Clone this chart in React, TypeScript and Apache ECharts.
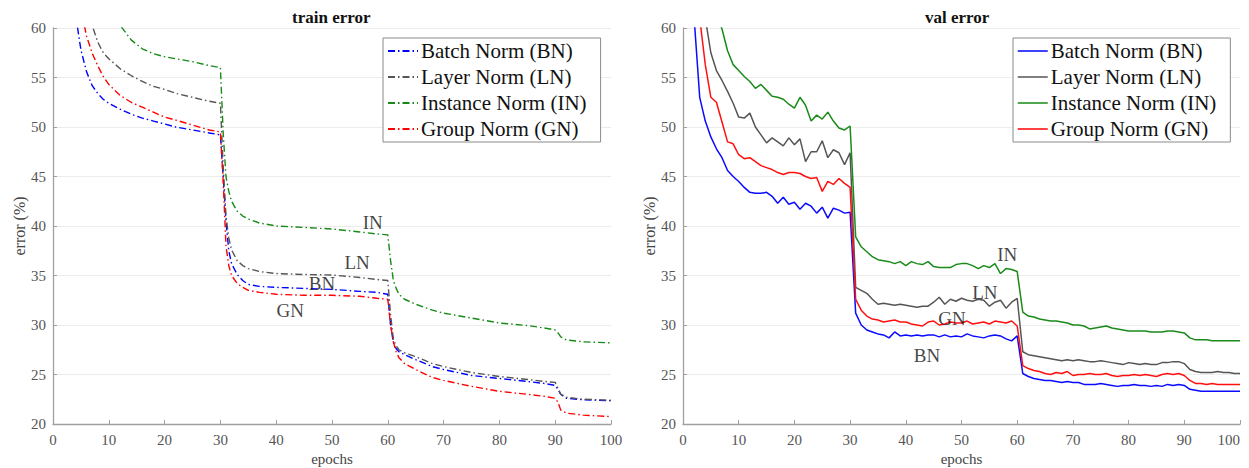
import React, { useEffect, useRef } from "react";
import * as echarts from "echarts";

const FONT = "'Liberation Serif', 'Times New Roman', serif";

const seriesNames = ["Batch Norm (BN)", "Layer Norm (LN)", "Instance Norm (IN)", "Group Norm (GN)"];
const trainColors = ["#0000ff", "#555555", "#168a16", "#ff0000"];
const valColors = ["#0a0aff", "#555555", "#1a8a1a", "#ff1010"];
const plotTitles = ["train error", "val error"];
const xName = "epochs";
const yName = "error (%)";

// train error (sampled epochs)
const trainEpochs = [4, 5, 6, 7, 8, 9, 10, 12, 14, 16, 18, 20, 22, 25, 28, 30, 30.5, 31, 31.5, 32, 33, 34, 35, 37, 40, 45, 50, 55, 58, 60, 60.5, 61, 61.5, 62, 63, 65, 68, 70, 75, 80, 85, 88, 90, 90.5, 91, 92, 95, 100];
const trainBN = [61.5, 57.8, 55.6, 54.2, 53.4, 52.8, 52.4, 51.8, 51.3, 50.9, 50.6, 50.3, 50.0, 49.7, 49.4, 49.2, 45.0, 40.5, 37.5, 36.2, 35.1, 34.5, 34.1, 33.9, 33.8, 33.7, 33.6, 33.4, 33.3, 33.1, 30.0, 28.2, 27.6, 27.3, 27.0, 26.5, 25.8, 25.5, 24.9, 24.6, 24.3, 24.1, 23.9, 23.5, 23.0, 22.6, 22.45, 22.35];
const trainLN = [70, 66, 62.5, 60.3, 58.6, 57.5, 56.9, 55.9, 55.2, 54.6, 54.1, 53.8, 53.4, 53.0, 52.6, 52.4, 46.0, 41.0, 38.8, 37.6, 36.5, 36.0, 35.7, 35.4, 35.2, 35.1, 35.05, 34.8, 34.6, 34.5, 31.0, 28.6, 27.9, 27.5, 27.2, 26.8, 26.1, 25.8, 25.2, 24.8, 24.5, 24.3, 24.2, 23.6, 23.0, 22.7, 22.5, 22.4];
const trainIN = [80, 76, 73, 70, 67, 65, 63, 60.3, 58.8, 57.9, 57.4, 57.1, 56.9, 56.6, 56.2, 56.0, 49.4, 45.0, 43.5, 42.5, 41.5, 41.0, 40.7, 40.3, 40.0, 39.85, 39.7, 39.4, 39.2, 39.1, 36.5, 34.5, 33.7, 33.1, 32.6, 32.1, 31.5, 31.2, 30.7, 30.2, 29.95, 29.7, 29.5, 29.2, 28.8, 28.5, 28.3, 28.2];
const trainGN = [66, 62, 59.2, 57.5, 56.2, 55.1, 54.3, 53.2, 52.5, 52.0, 51.5, 51.0, 50.7, 50.2, 49.7, 49.5, 44.5, 38.0, 36.0, 35.0, 34.2, 33.8, 33.5, 33.3, 33.1, 33.0, 33.0, 32.9, 32.7, 32.6, 30.0, 28.3, 27.3, 26.7, 26.1, 25.5, 24.7, 24.4, 23.8, 23.3, 23.0, 22.8, 22.6, 22.2, 21.4, 21.1, 20.9, 20.75];

// val error (every epoch 1..100)
const valEpochs = Array.from({ length: 100 }, (_, i) => i + 1);
const valBN = [
  75, 61, 53.0, 50.6, 49.0, 47.8, 46.9, 45.6, 45.0, 44.5,
  43.9, 43.4, 43.3, 43.3, 43.4, 43.0, 42.3, 42.9, 42.2, 42.4,
  41.7, 42.3, 42.0, 41.3, 41.9, 40.8, 41.8, 41.6, 41.3, 41.4,
  31.2, 30.0, 29.5, 29.3, 29.1, 29.0, 28.7, 29.3, 28.9, 29.0,
  28.9, 29.0, 28.9, 29.0, 29.0, 28.8, 29.0, 28.8, 28.9, 28.8,
  29.1, 28.9, 28.8, 28.7, 28.9, 29.0, 28.9, 28.6, 28.4, 28.9,
  25.1, 24.8, 24.6, 24.5, 24.4, 24.4, 24.3, 24.2, 24.3, 24.2,
  24.2, 24.0, 24.0, 24.0, 24.1, 24.0, 23.9, 23.8, 23.9, 23.9,
  24.0, 23.9, 23.9, 23.8, 23.9, 23.8, 24.0, 23.9, 24.0, 23.9,
  23.5, 23.4, 23.3, 23.3, 23.3, 23.3, 23.3, 23.3, 23.3, 23.3,
];
const valLN = [
  85, 72, 65, 61, 57.5, 55.7, 54.7, 53.6, 52.4, 51.0,
  50.9, 51.4, 50.0, 49.2, 48.4, 48.9, 48.5, 48.1, 48.9, 48.2,
  48.8, 46.5, 47.5, 47.5, 48.6, 46.9, 47.7, 47.4, 46.2, 47.4,
  33.8, 33.5, 33.2, 32.6, 32.1, 32.2, 32.1, 32.0, 32.1, 32.0,
  31.9, 31.8, 31.9, 31.9, 32.3, 32.8, 32.1, 32.6, 32.4, 32.7,
  32.5, 32.4, 32.6, 32.5, 31.9, 32.3, 32.5, 31.7, 32.3, 32.7,
  27.3, 27.0, 26.9, 26.8, 26.7, 26.6, 26.5, 26.4, 26.5, 26.4,
  26.5, 26.4, 26.3, 26.3, 26.4, 26.3, 26.2, 26.1, 26.0, 26.2,
  26.1, 26.0, 26.1, 26.0, 26.0, 26.2, 26.2, 26.3, 26.3, 26.1,
  25.5, 25.3, 25.2, 25.2, 25.2, 25.3, 25.2, 25.2, 25.1, 25.1,
];
const valIN = [
  90, 80, 74, 68, 64, 61.5, 59.9, 57.7, 56.3, 55.7,
  55.1, 54.6, 53.9, 54.3, 53.7, 53.1, 53.0, 52.8, 52.3, 51.9,
  53.0, 52.2, 50.6, 51.2, 50.8, 51.5, 50.6, 49.9, 49.7, 50.1,
  38.9, 37.9, 37.4, 36.9, 36.6, 36.5, 36.4, 36.2, 36.4, 36.0,
  36.4, 36.2, 36.1, 36.4, 35.9, 35.8, 35.8, 35.8, 36.1, 36.2,
  36.2, 36.0, 35.7, 36.0, 35.8, 36.2, 35.2, 35.7, 35.6, 35.4,
  31.3, 30.9, 30.8, 30.6, 30.5, 30.4, 30.4, 30.3, 30.2, 30.0,
  30.0, 29.9, 29.6, 29.7, 29.8, 29.9, 29.7, 29.6, 29.5, 29.4,
  29.4, 29.4, 29.4, 29.3, 29.3, 29.3, 29.4, 29.4, 29.3, 29.2,
  28.7, 28.5, 28.5, 28.5, 28.4, 28.4, 28.4, 28.4, 28.4, 28.4,
];
const valGN = [
  78, 68, 61, 56.3, 53.0, 52.5, 50.5, 48.5, 48.3, 47.2,
  46.8, 46.9, 46.5, 46.1, 45.9, 45.7, 45.4, 45.2, 45.4, 45.4,
  45.3, 45.0, 44.8, 44.9, 43.5, 44.5, 44.2, 44.8, 44.3, 43.9,
  32.6, 31.5, 30.9, 30.6, 30.5, 30.3, 30.4, 30.5, 30.3, 30.3,
  30.1, 30.0, 29.9, 30.3, 30.4, 30.0, 30.1, 30.3, 30.2, 30.2,
  30.4, 30.1, 30.2, 30.3, 30.1, 30.4, 30.3, 30.2, 30.4, 29.9,
  25.9, 25.6, 25.4, 25.3, 25.1, 25.0, 25.2, 25.1, 25.3, 24.9,
  25.0, 25.0, 25.1, 25.0, 25.0, 25.1, 24.9, 24.8, 24.9, 24.9,
  25.0, 24.9, 25.0, 24.9, 24.8, 25.0, 25.1, 25.0, 25.1, 24.9,
  24.4, 24.1, 24.1, 24.0, 24.1, 24.0, 24.0, 24.0, 24.0, 24.0,
];

// in-plot annotations: [label, epoch, error]
const trainNotes: [string, number, number][] = [
  ["IN", 57.3, 40.4],
  ["LN", 54.5, 36.3],
  ["BN", 48.2, 34.2],
  ["GN", 42.5, 31.5],
];
const valNotes: [string, number, number][] = [
  ["IN", 58.2, 37.1],
  ["LN", 54.2, 33.3],
  ["GN", 48.3, 30.7],
  ["BN", 43.8, 26.9],
];

const trainSeries = [trainBN, trainLN, trainIN, trainGN];
const valSeries = [valBN, valLN, valIN, valGN];

const X_MIN = 0, X_MAX = 100, X_STEP = 10;
const Y_MIN = 20, Y_MAX = 60, Y_STEP = 5;

function buildOption() {
  const grids = [
    { left: 53, top: 28, width: 558, height: 396, outerBoundsMode: "none", containLabel: false },
    { left: 683, top: 28, width: 557, height: 396, outerBoundsMode: "none", containLabel: false },
  ];
  const axisLine = { show: true, onZero: false, lineStyle: { color: "#a0a0a0", width: 1.3 } };
  const axisTick = { show: true, inside: true, length: 4, lineStyle: { color: "#a0a0a0", width: 1 } };
  const axisLabel = { color: "#555", fontFamily: FONT, fontSize: 15 };
  const xAxes = [0, 1].map((i) => ({
    type: "value",
    gridIndex: i,
    min: X_MIN,
    max: X_MAX,
    interval: X_STEP,
    axisLine,
    axisTick,
    axisLabel: { ...axisLabel, margin: 8, alignMaxLabel: i === 1 ? "right" : "center" },
    splitLine: { show: false },
    name: xName,
    nameLocation: "middle",
    nameGap: 27,
    nameTextStyle: { color: "#444", fontFamily: FONT, fontSize: 15 },
  }));
  const yAxes = [0, 1].map((i) => ({
    type: "value",
    gridIndex: i,
    min: Y_MIN,
    max: Y_MAX,
    interval: Y_STEP,
    axisLine,
    axisTick,
    axisLabel: { ...axisLabel, margin: 7 },
    splitLine: { show: true, lineStyle: { color: "#ececec", width: 1 } },
    name: yName,
    nameLocation: "middle",
    nameGap: 26,
    nameTextStyle: { color: "#444", fontFamily: FONT, fontSize: 16 },
  }));

  const series: any[] = [];
  seriesNames.forEach((name, k) => {
    series.push({
      type: "line",
      name,
      xAxisIndex: 0,
      yAxisIndex: 0,
      symbol: "none",
      clip: true,
      data: trainEpochs.map((e, j) => [e, trainSeries[k][j]]),
      lineStyle: { color: trainColors[k], width: 1.4, type: [7, 3, 1.5, 3] },
      itemStyle: { color: trainColors[k] },
      z: 3,
    });
  });
  seriesNames.forEach((name, k) => {
    series.push({
      type: "line",
      name,
      xAxisIndex: 1,
      yAxisIndex: 1,
      symbol: "none",
      clip: true,
      data: valEpochs.map((e, j) => [e, valSeries[k][j]]),
      lineStyle: { color: valColors[k], width: 1.5, type: "solid" },
      itemStyle: { color: valColors[k] },
      z: 3,
    });
  });
  const noteLabel = { show: true, position: "inside", formatter: "{b}", color: "#111", fontFamily: FONT, fontSize: 19 };
  [trainNotes, valNotes].forEach((notes, i) => {
    series.push({
      type: "scatter",
      name: "notes" + i,
      xAxisIndex: i,
      yAxisIndex: i,
      symbolSize: 1,
      itemStyle: { color: "rgba(0,0,0,0)" },
      silent: true,
      label: noteLabel,
      data: notes.map(([t, x, y]) => ({ name: t, value: [x, y] })),
      z: 5,
    });
  });

  const legendBase = {
    orient: "vertical",
    top: 38,
    itemWidth: 30,
    itemHeight: 14,
    itemGap: 4,
    padding: [2, 14, 2, 4],
    backgroundColor: "#fff",
    borderColor: "#8a8a8a",
    borderWidth: 1,
    selectedMode: false,
    itemStyle: { opacity: 0 },
    textStyle: { color: "#111", fontFamily: FONT, fontSize: 21, lineHeight: 22, padding: [0, 0, 0, -2] },
  };

  return {
    animation: false,
    backgroundColor: "#fff",
    grid: grids,
    xAxis: xAxes,
    yAxis: yAxes,
    legend: [
      { ...legendBase, left: 383, data: seriesNames.map((n) => ({ name: n })) },
      { ...legendBase, left: 1013, data: seriesNames.map((n) => ({ name: n, lineStyle: { type: "solid", width: 1.5 } })) },
    ],
    graphic: plotTitles.map((t, i) => ({
      type: "text",
      left: i === 0 ? 292 : 925,
      top: 9,
      style: { text: t, fill: "#111", font: `bold 17px ${FONT}` },
    })),
    series,
  };
}

export default function App() {
  const ref = useRef<HTMLDivElement>(null);
  useEffect(() => {
    if (!ref.current) return;
    const chart = echarts.init(ref.current, undefined, { renderer: "svg" });
    chart.setOption(buildOption() as any);
    return () => chart.dispose();
  }, []);
  return (
    <div
      ref={ref}
      style={{ position: "fixed", left: 0, top: 0, width: 1249, height: 468, background: "#fff" }}
    />
  );
}
